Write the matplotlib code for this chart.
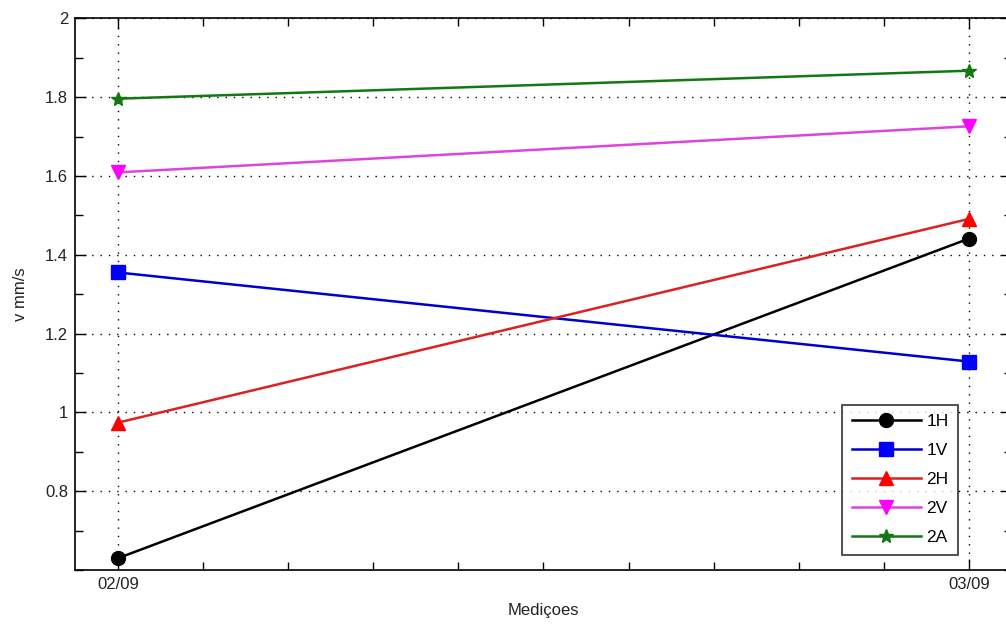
import matplotlib
matplotlib.use("Agg")
import matplotlib.pyplot as plt
from matplotlib.ticker import MultipleLocator, FixedLocator

plt.rcParams['font.family'] = ['Liberation Sans', 'DejaVu Sans']

dates = ["02/09", "03/09"]
x_pos = [1, 2]
series_names = ["1H", "1V", "2H", "2V", "2A"]
v_1H = [0.630, 1.441]
v_1V = [1.355, 1.129]
v_2H = [0.974, 1.491]
v_2V = [1.609, 1.726]
v_2A = [1.796, 1.867]

styles = [
    dict(color="black", marker="o", mfc="black", ms=10),
    dict(color="#0000cc", marker="s", mfc="#0000ff", ms=10),
    dict(color="#dd2020", marker="^", mfc="#ff0000", ms=10),
    dict(color="#dd44dd", marker="v", mfc="#ff00ff", ms=10),
    dict(color="#127812", marker="*", mfc="#127812", ms=10),
]

fig = plt.figure(figsize=(10.06, 6.27), dpi=100)
ax = fig.add_axes([75 / 1006, 0.0909, 937 / 1006, 0.8799])

for name, vals, st in zip(series_names, [v_1H, v_1V, v_2H, v_2V, v_2A], styles):
    ax.plot(x_pos, vals, label=name, linewidth=1.8, markersize=st["ms"],
            markeredgecolor=st["mfc"], color=st["color"], marker=st["marker"],
            markerfacecolor=st["mfc"], clip_on=False)

ax.set_xlim(0.9495, 0.9495 + 937 / 851)
ax.set_ylim(0.6, 2.0)
ax.xaxis.set_major_locator(FixedLocator(x_pos))
ax.set_xticklabels(dates)
ax.xaxis.set_minor_locator(FixedLocator([1 + 0.1 * i for i in range(1, 10)]))
ax.yaxis.set_major_locator(FixedLocator([0.8, 1.0, 1.2, 1.4, 1.6, 1.8, 2.0]))
ax.set_yticklabels(["0.8", "1", "1.2", "1.4", "1.6", "1.8", "2"])
ax.yaxis.set_minor_locator(MultipleLocator(0.1))

ax.tick_params(which="both", direction="in", top=True, right=True,
               labelsize=12, colors="black", width=1.0)
ax.tick_params(which="major", length=8, pad=5)
ax.tick_params(which="minor", length=6)
for lbl in ax.get_xticklabels() + ax.get_yticklabels():
    lbl.set_color("#222222")

ax.grid(True, which="major", linestyle=(0, (1, 5)), color="black", linewidth=1.0)
for sp in ax.spines.values():
    sp.set_linewidth(1.2)

ax.set_xlabel("Mediçoes", fontsize=12, color="#222222", labelpad=8)
ax.set_ylabel("v mm/s", fontsize=12, color="#222222", labelpad=12)

leg = ax.legend(loc="lower right", bbox_to_anchor=(958 / 1006, 1 - 555 / 627),
                bbox_transform=fig.transFigure, fontsize=12.5, frameon=True,
                fancybox=False, edgecolor="black", handlelength=4.0,
                borderpad=0.55, labelspacing=0.8, handletextpad=0.3,
                borderaxespad=0)
leg.get_frame().set_linewidth(1.2)

fig.savefig("out.png", dpi=100)
